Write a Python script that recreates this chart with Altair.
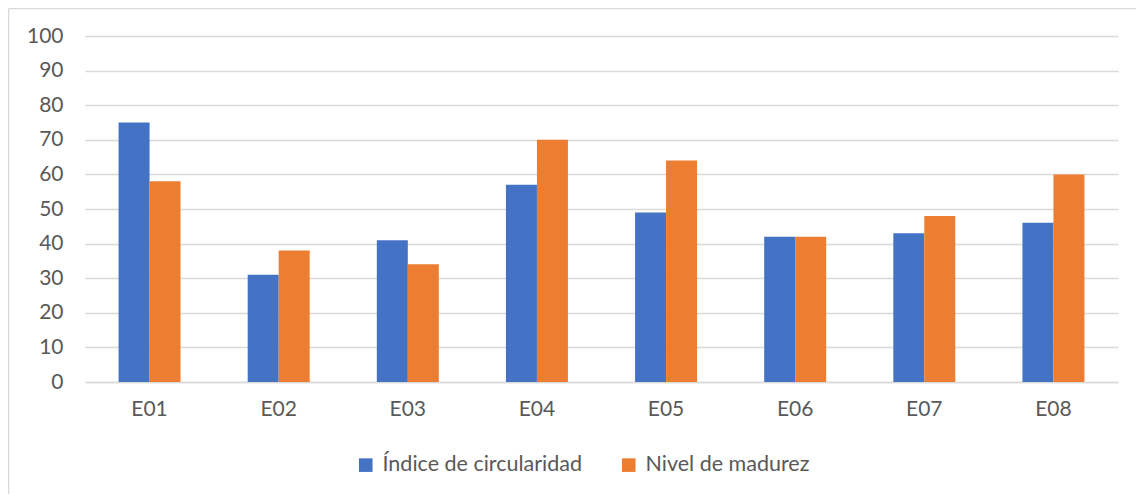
import altair as alt
import pandas as pd

categories = ["E01", "E02", "E03", "E04", "E05", "E06", "E07", "E08"]
series_names = ["Índice de circularidad", "Nivel de madurez"]
indice = [75, 31, 41, 57, 49, 42, 43, 46]
nivel = [58, 38, 34, 70, 64, 42, 48, 60]
colors = ["#4472C4", "#ED7D31"]
y_ticks = [0, 10, 20, 30, 40, 50, 60, 70, 80, 90, 100]

rows = []
for c, a, b in zip(categories, indice, nivel):
    rows.append({"cat": c, "serie": series_names[0], "valor": a})
    rows.append({"cat": c, "serie": series_names[1], "valor": b})
df = pd.DataFrame(rows)

FONT = "Lato"
TXT = "#595959"
GRID = "#D9D9D9"

bars = alt.Chart(df).mark_bar().encode(
    x=alt.X("cat:N", sort=categories, title=None,
            scale=alt.Scale(paddingInner=0.52, paddingOuter=0.26),
            axis=alt.Axis(labelAngle=0, labelFont=FONT, labelFontSize=21,
                          labelColor=TXT, labelPadding=16, ticks=False,
                          domain=True, domainColor=GRID, domainWidth=1.5,
                          grid=False)),
    xOffset=alt.XOffset("serie:N", sort=series_names),
    y=alt.Y("valor:Q", title=None,
            scale=alt.Scale(domain=[0, 100], nice=False),
            axis=alt.Axis(values=y_ticks, labelFont=FONT, labelFontSize=21,
                          labelColor=TXT, labelPadding=22, ticks=False,
                          domain=False, grid=True, gridColor=GRID,
                          gridWidth=1.5)),
    color=alt.Color("serie:N", sort=series_names,
                    scale=alt.Scale(domain=series_names, range=colors),
                    legend=alt.Legend(title=None, orient="none",
                                      direction="horizontal",
                                      legendX=270, legendY=418,
                                      symbolType="square", symbolSize=185,
                                      symbolStrokeWidth=0, labelLimit=0,
                                      labelFont=FONT, labelFontSize=21.5,
                                      labelColor=TXT, labelOffset=6,
                                      columnPadding=36, padding=0)),
)

one = pd.DataFrame({"a": [0]})
left_border = alt.Chart(one).mark_rule(color=GRID, strokeWidth=1.5).encode(
    x=alt.value(-76.5), y=alt.value(-27.5), y2=alt.value(480))
top_border = alt.Chart(one).mark_rule(color=GRID, strokeWidth=1.5).encode(
    x=alt.value(-76.5), x2=alt.value(1100), y=alt.value(-27.5))

chart = alt.layer(left_border, top_border, bars).properties(
    width=1033, height=346,
    autosize=alt.AutoSizeParams(type="none"),
    padding={"left": 77, "top": 28, "right": 18, "bottom": 112},
).configure(background="white", view=alt.ViewConfig(stroke=None))

chart.save("out.html", embed_options={"renderer": "svg", "actions": False})
